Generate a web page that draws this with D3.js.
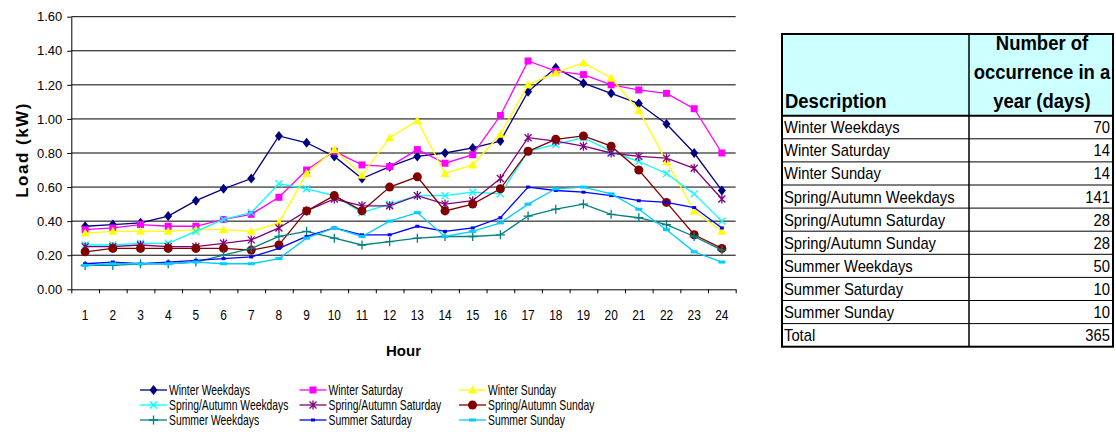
<!DOCTYPE html>
<html>
<head>
<meta charset="utf-8">
<script src="https://cdn.jsdelivr.net/npm/d3@7"></script>
<style>
  body { margin: 0; background: #fff; }
  svg { display: block; }
  text { font-family: "Liberation Sans", Arial, sans-serif; fill: #000; }
</style>
</head>
<body>
<svg id="chart" width="1116" height="432"></svg>
<script>
// Hourly household load profiles (kW) by season and day type
const hours = [1,2,3,4,5,6,7,8,9,10,11,12,13,14,15,16,17,18,19,20,21,22,23,24];
const yTicks = [0, 0.2, 0.4, 0.6, 0.8, 1.0, 1.2, 1.4, 1.6];

const winterWeekdays   = [0.37,0.38,0.39,0.43,0.52,0.59,0.65,0.90,0.86,0.78,0.65,0.72,0.78,0.80,0.83,0.87,1.16,1.30,1.21,1.15,1.09,0.97,0.80,0.58];
const winterSaturday   = [0.35,0.36,0.38,0.37,0.37,0.41,0.44,0.54,0.70,0.81,0.73,0.72,0.82,0.74,0.79,1.02,1.34,1.28,1.26,1.20,1.17,1.15,1.06,0.80];
const winterSunday     = [0.33,0.34,0.34,0.34,0.35,0.35,0.34,0.39,0.68,0.82,0.67,0.89,0.99,0.68,0.73,0.91,1.20,1.27,1.33,1.24,1.05,0.75,0.46,0.34];
const springWeekdays   = [0.26,0.26,0.27,0.27,0.34,0.41,0.45,0.62,0.59,0.55,0.45,0.50,0.55,0.55,0.57,0.56,0.81,0.85,0.89,0.81,0.75,0.68,0.56,0.40];
const springSaturday   = [0.25,0.25,0.26,0.25,0.25,0.27,0.29,0.36,0.46,0.53,0.49,0.49,0.55,0.50,0.52,0.65,0.89,0.87,0.84,0.80,0.78,0.77,0.71,0.53];
const springSunday     = [0.22,0.24,0.24,0.24,0.24,0.24,0.23,0.26,0.46,0.55,0.46,0.60,0.66,0.46,0.50,0.59,0.81,0.88,0.90,0.84,0.70,0.51,0.32,0.24];
const summerWeekdays   = [0.14,0.14,0.15,0.15,0.16,0.20,0.24,0.31,0.34,0.30,0.26,0.28,0.30,0.31,0.31,0.32,0.43,0.47,0.50,0.44,0.42,0.38,0.31,0.23];
const summerSaturday   = [0.15,0.16,0.15,0.16,0.17,0.18,0.19,0.24,0.31,0.36,0.32,0.32,0.37,0.34,0.36,0.42,0.60,0.58,0.57,0.55,0.52,0.51,0.48,0.36];
const summerSunday     = [0.14,0.15,0.15,0.15,0.16,0.15,0.15,0.18,0.30,0.36,0.31,0.40,0.45,0.31,0.34,0.39,0.50,0.59,0.60,0.56,0.47,0.35,0.22,0.16];

const seriesNames = ["Winter Weekdays","Winter Saturday","Winter Sunday",
                     "Spring/Autumn Weekdays","Spring/Autumn Saturday","Spring/Autumn Sunday",
                     "Summer Weekdays","Summer Saturday","Summer Sunday"];
const seriesValues = [winterWeekdays, winterSaturday, winterSunday,
                      springWeekdays, springSaturday, springSunday,
                      summerWeekdays, summerSaturday, summerSunday];
const seriesColors = ["#000080","#FF00FF","#FFFF00","#00FFFF","#800080","#800000","#008080","#0000FF","#00CCFF"];
const seriesMarkers = ["diamond","square","triangle","x","star","circle","plus","smallbar","bar"];

// Days per year for each day type
const daysPerYear = [70,14,14,141,28,28,50,10,10];
const tableHeader = ["Description", ["Number of","occurrence in a","year (days)"]];

const svg = d3.select("#chart");

// ---------- Chart ----------
const plotL = 71.3, plotR = 735.7, plotT = 16.7, plotB = 289.3;
const x = d3.scaleBand().domain(hours).range([plotL, plotR]);
const xEdge = d3.scaleLinear().domain([0, hours.length]).range([plotL, plotR]);
const y = d3.scaleLinear().domain([0, 1.6]).range([plotB, plotT]);

// horizontal gridlines
svg.append("g").selectAll("line").data(yTicks.slice(1)).join("line")
  .attr("x1", plotL).attr("x2", plotR)
  .attr("y1", d => y(d)).attr("y2", d => y(d))
  .attr("stroke", "#000").attr("stroke-width", 1);

// y axis
const yAxis = svg.append("g").attr("transform", `translate(${plotL},0)`)
  .call(d3.axisLeft(y).tickValues(yTicks).tickFormat(d3.format(".2f"))
        .tickSize(4).tickSizeOuter(0).tickPadding(5));
yAxis.selectAll("text").style("font-size", "13px");
yAxis.select(".domain").attr("stroke", "#000");

// x axis: tick marks at category boundaries
const xTickG = svg.append("g").attr("transform", `translate(0,${plotB})`)
  .call(d3.axisBottom(xEdge).tickValues(d3.range(0, hours.length + 1))
        .tickFormat("").tickSize(4).tickSizeOuter(0));
xTickG.select(".domain").attr("stroke", "#000");

// x axis: hour labels at category centres
const xLab = svg.append("g").attr("transform", `translate(0,${plotB})`)
  .call(d3.axisBottom(x).tickSize(0).tickPadding(20.5));
xLab.select(".domain").remove();
xLab.selectAll("text").style("font-size", "14px").attr("transform", "scale(0.85,1)");

// axis titles
svg.append("text").attr("x", 403.5).attr("y", 356).attr("text-anchor", "middle")
  .style("font-size", "15px").style("font-weight", "bold").text("Hour");
svg.append("text").attr("transform", "translate(28,150) rotate(-90)")
  .attr("text-anchor", "middle").style("font-size", "17px").style("font-weight", "bold")
  .style("letter-spacing", "1.5px").text("Load (kW)");

// marker drawing
function drawMarker(g, type, color) {
  switch (type) {
    case "diamond":
      g.append("path").attr("d", "M0,-5L4,0L0,5L-4,0Z").attr("fill", color); break;
    case "square":
      g.append("rect").attr("x", -3.5).attr("y", -3.5).attr("width", 7).attr("height", 7).attr("fill", color); break;
    case "triangle":
      g.append("path").attr("d", "M0,-4.5L4.5,3.5L-4.5,3.5Z").attr("fill", color); break;
    case "x":
      g.append("path").attr("d", "M-3.5,-3.5L3.5,3.5M-3.5,3.5L3.5,-3.5")
        .attr("stroke", color).attr("stroke-width", 1.3).attr("fill", "none"); break;
    case "star":
      g.append("path").attr("d", "M-3.5,-3.5L3.5,3.5M-3.5,3.5L3.5,-3.5M0,-4.5L0,4.5")
        .attr("stroke", color).attr("stroke-width", 1.3).attr("fill", "none"); break;
    case "circle":
      g.append("circle").attr("r", 4.5).attr("fill", color); break;
    case "plus":
      g.append("path").attr("d", "M0,-4.5L0,4.5M-4.5,0L4.5,0")
        .attr("stroke", color).attr("stroke-width", 1.3).attr("fill", "none"); break;
    case "smallbar":
      g.append("rect").attr("x", -2).attr("y", -1.5).attr("width", 4).attr("height", 3).attr("fill", color); break;
    case "bar":
      g.append("rect").attr("x", -3.5).attr("y", -1.5).attr("width", 7).attr("height", 3).attr("fill", color); break;
  }
}

const line = d3.line().x(d => x(d.h) + x.bandwidth() / 2).y(d => y(d.v));
const seriesData = seriesNames.map((name, i) => ({
  name, color: seriesColors[i], marker: seriesMarkers[i],
  points: hours.map((h, j) => ({ h, v: seriesValues[i][j] }))
}));

const seriesG = svg.append("g").selectAll("g").data(seriesData).join("g");
seriesG.append("path").attr("d", d => line(d.points))
  .attr("fill", "none").attr("stroke", d => d.color).attr("stroke-width", 1.3);
seriesG.each(function (s) {
  d3.select(this).selectAll("g.m").data(s.points).join("g").attr("class", "m")
    .attr("transform", p => `translate(${x(p.h) + x.bandwidth() / 2},${y(p.v)})`)
    .each(function () { drawMarker(d3.select(this), s.marker, s.color); });
});

// legend (3 columns x 3 rows)
const legendCols = [140, 299.5, 459];
const legendRows = [390, 405, 420];
const legG = svg.append("g").selectAll("g").data(seriesData).join("g")
  .attr("transform", (d, i) => `translate(${legendCols[i % 3]},${legendRows[Math.floor(i / 3)]})`);
legG.append("line").attr("x1", 0).attr("x2", 27).attr("y1", 0).attr("y2", 0)
  .attr("stroke", d => d.color).attr("stroke-width", 1.3);
legG.each(function (d) {
  const m = d3.select(this).append("g").attr("transform", "translate(13.5,0)");
  drawMarker(m, d.marker, d.color);
});
legG.append("text").attr("transform", "translate(29,5) scale(0.74,1)")
  .style("font-size", "14px").text(d => d.name);

// ---------- Table ----------
const tL = 782, tR = 1113, tMid = 969, tTop = 34, tHeadB = 115.7, rowH = 23.1;
const tableRows = seriesNames.map((n, i) => ({ label: n, value: daysPerYear[i] }))
  .concat([{ label: "Total", value: d3.sum(daysPerYear) }]);
const tBottom = tHeadB + rowH * tableRows.length;
const table = svg.append("g");

table.append("rect").attr("x", tL).attr("y", tTop).attr("width", tR - tL).attr("height", tHeadB - tTop)
  .attr("fill", "#CCFFFF");

svg.append("clipPath").attr("id", "headClip").append("rect")
  .attr("x", tL).attr("y", tTop).attr("width", tR - tL).attr("height", tHeadB - tTop);
const head = table.append("g").attr("clip-path", "url(#headClip)");
head.append("text").attr("transform", `translate(${tL + 3},108) scale(0.88,1)`)
  .style("font-size", "21px").style("font-weight", "bold").text(tableHeader[0]);
head.selectAll("text.h2").data(tableHeader[1]).join("text").attr("class", "h2")
  .attr("transform", (d, i) => `translate(1042,${50 + i * 29}) scale(0.88,1)`)
  .attr("text-anchor", "middle").style("font-size", "21px").style("font-weight", "bold").text(d => d);

const rowsG = table.selectAll("g.row").data(tableRows).join("g").attr("class", "row")
  .attr("transform", (d, i) => `translate(0,${tHeadB + i * rowH})`);
rowsG.append("text").attr("transform", `translate(${tL + 2},${rowH / 2 + 6}) scale(0.87,1)`)
  .style("font-size", "17px").text(d => d.label);
rowsG.append("text").attr("transform", `translate(${tR - 3},${rowH / 2 + 6}) scale(0.87,1)`)
  .attr("text-anchor", "end").style("font-size", "17px").text(d => d.value);

// row separators
table.selectAll("line.sep").data(d3.range(1, tableRows.length)).join("line").attr("class", "sep")
  .attr("x1", tL).attr("x2", tR)
  .attr("y1", i => tHeadB + i * rowH).attr("y2", i => tHeadB + i * rowH)
  .attr("stroke", "#000").attr("stroke-width", 1);
table.append("line").attr("x1", tL).attr("x2", tR).attr("y1", tHeadB).attr("y2", tHeadB)
  .attr("stroke", "#000").attr("stroke-width", 2);
table.append("line").attr("x1", tMid).attr("x2", tMid).attr("y1", tTop).attr("y2", tBottom)
  .attr("stroke", "#000").attr("stroke-width", 1.5);
table.append("rect").attr("x", tL).attr("y", tTop).attr("width", tR - tL).attr("height", tBottom - tTop)
  .attr("fill", "none").attr("stroke", "#000").attr("stroke-width", 2);
</script>
</body>
</html>
